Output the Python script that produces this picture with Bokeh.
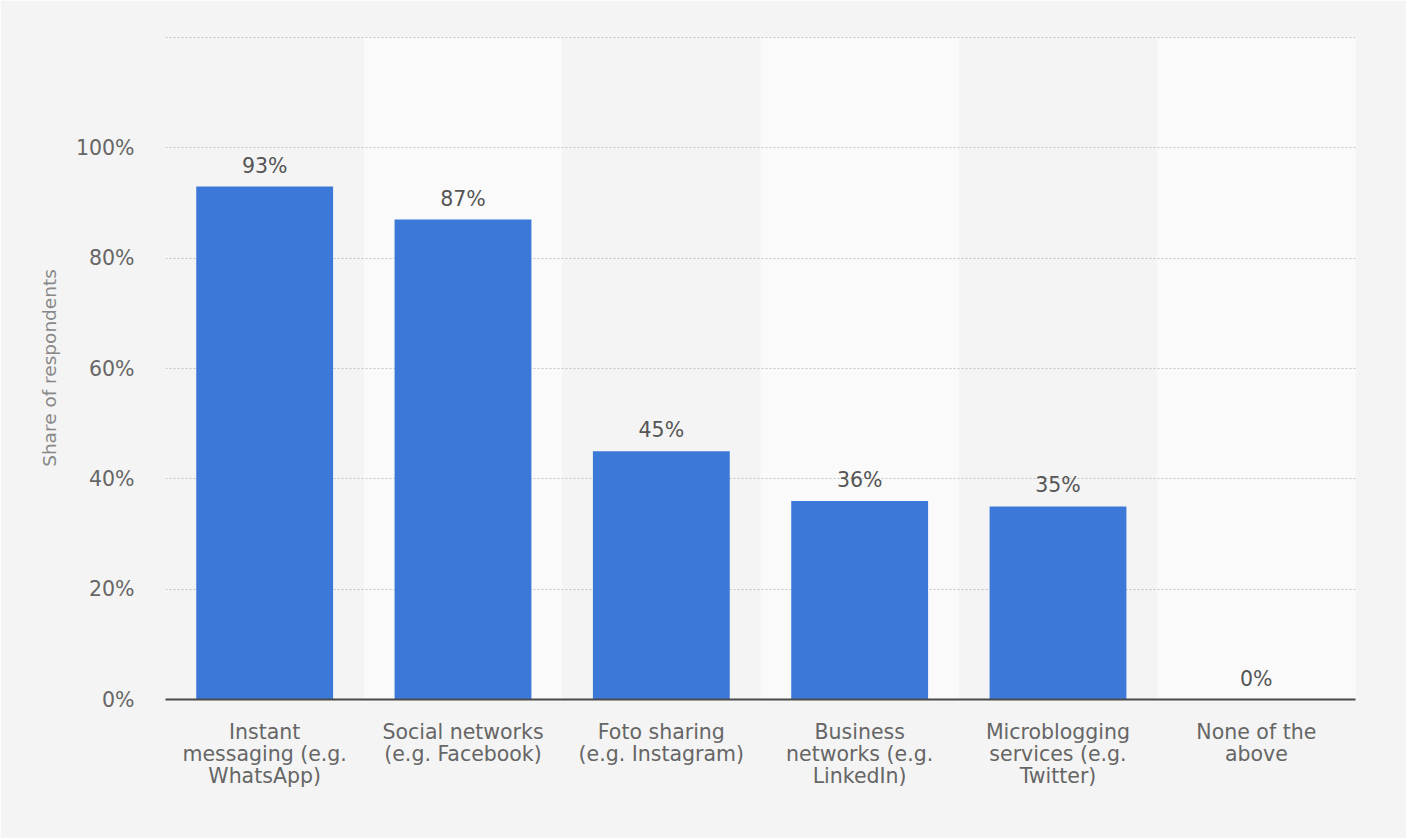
from bokeh.plotting import figure
from bokeh.models import ColumnDataSource, FactorRange, FixedTicker, Range1d
from bokeh.core.properties import value
from bokeh.embed import file_html
from bokeh.resources import INLINE

categories = [
    "Instant\nmessaging (e.g.\nWhatsApp)",
    "Social networks\n(e.g. Facebook)",
    "Foto sharing\n(e.g. Instagram)",
    "Business\nnetworks (e.g.\nLinkedIn)",
    "Microblogging\nservices (e.g.\nTwitter)",
    "None of the\nabove",
]
shares = [93, 87, 45, 36, 35, 0]
labels = [f"{v}%" for v in shares]
y_ticks = [0, 20, 40, 60, 80, 100, 120]

FONT = "DejaVu Sans"
BG = "#f4f4f4"
FS = "20.5px"

p = figure(
    x_range=FactorRange(*categories, range_padding=0),
    y_range=Range1d(0, 120.2),
    width=1406, height=838,
    output_backend="svg", toolbar_location=None,
    min_border_left=165, min_border_right=51, min_border_top=36, min_border_bottom=139,
)
p.background_fill_color = BG
p.border_fill_color = BG
p.outline_line_color = None

# alternating lighter bands
band_src = ColumnDataSource(dict(x=categories[1::2], top=[120.2] * len(categories[1::2])))
p.vbar(x="x", top="top", bottom=0, width=1.0, source=band_src,
       fill_color="#fafafa", line_color=None, level="image")

src = ColumnDataSource(dict(x=categories, top=shares, lab=labels))
p.vbar(x="x", top="top", width=0.69, source=src, fill_color="#3c78d8", line_color=None)
p.text(x="x", y="top", text="lab", source=src, text_align="center", text_baseline="bottom",
       y_offset=-9, text_font=value(FONT), text_font_size=FS, text_color="#555555")

# y axis
p.yaxis.ticker = FixedTicker(ticks=y_ticks)
p.yaxis.major_label_overrides = {t: (f"{t}%" if t <= 100 else "") for t in y_ticks}
p.yaxis.axis_line_color = None
p.yaxis.major_tick_line_color = None
p.yaxis.minor_tick_line_color = None
p.yaxis.major_label_text_font = FONT
p.yaxis.major_label_text_font_size = FS
p.yaxis.major_label_text_color = "#666666"
p.yaxis.major_label_standoff = 25
p.yaxis.axis_label = "Share of respondents"
p.yaxis.axis_label_text_font = FONT
p.yaxis.axis_label_text_font_size = "18.5px"
p.yaxis.axis_label_text_font_style = "normal"
p.yaxis.axis_label_text_color = "#888888"
p.yaxis.axis_label_standoff = 13

p.ygrid.grid_line_color = "#c4c4c4"
p.ygrid.grid_line_dash = "2 2"
p.ygrid.grid_line_width = 1
p.xgrid.grid_line_color = None

# x axis
p.xaxis.axis_line_color = "#4a4a4a"
p.xaxis.axis_line_width = 2
p.xaxis.major_tick_line_color = None
p.xaxis.minor_tick_line_color = None
p.xaxis.major_label_text_font = FONT
p.xaxis.major_label_text_font_size = FS
p.xaxis.major_label_text_color = "#666666"
p.xaxis.major_label_text_line_height = 0.92
p.xaxis.major_label_standoff = 14

html = file_html(p, INLINE)
html = html.replace("<body>", f'<body style="background:{BG};">', 1)
open("out.html", "w").write(html)
